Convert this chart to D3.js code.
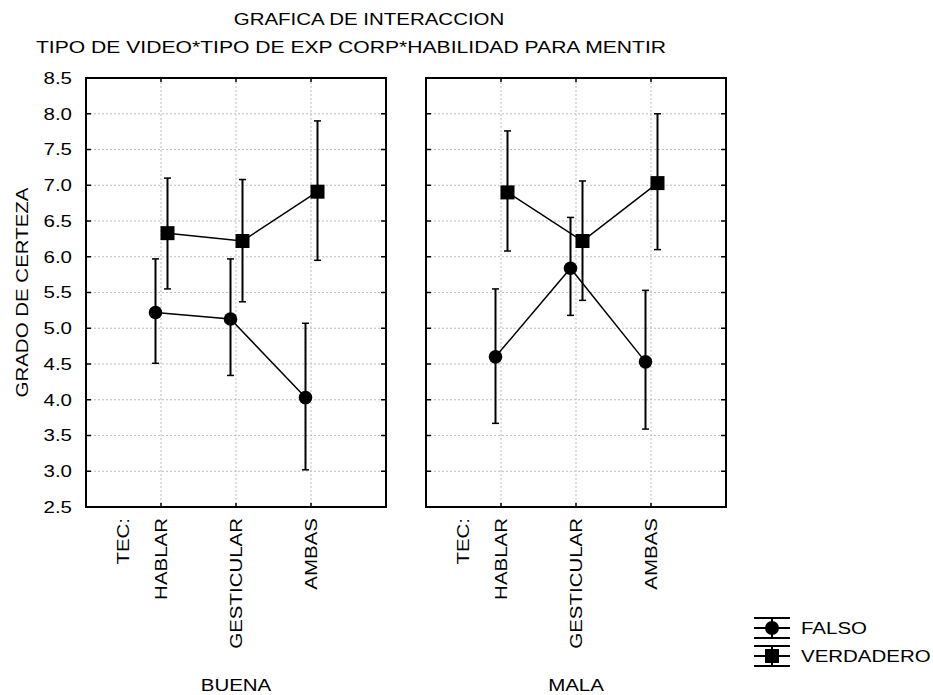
<!DOCTYPE html>
<html>
<head>
<meta charset="utf-8">
<script src="https://cdn.jsdelivr.net/npm/d3@7"></script>
<style>
  body { margin: 0; background: #fff; }
  text { font-family: "Liberation Sans", Arial, sans-serif; fill: #000; font-size: 16px; }
</style>
</head>
<body>
<script>
// data
const techniques = ["HABLAR", "GESTICULAR", "AMBAS"];
const panels = ["BUENA", "MALA"];
const yTicks = [2.5, 3.0, 3.5, 4.0, 4.5, 5.0, 5.5, 6.0, 6.5, 7.0, 7.5, 8.0, 8.5];

// BUENA panel
const buenaFalsoMean = [5.22, 5.13, 4.03];
const buenaFalsoLow = [4.51, 4.34, 3.02];
const buenaFalsoHigh = [5.97, 5.97, 5.07];
const buenaVerdMean = [6.33, 6.22, 6.91];
const buenaVerdLow = [5.55, 5.37, 5.95];
const buenaVerdHigh = [7.10, 7.08, 7.90];

// MALA panel
const malaFalsoMean = [4.60, 5.84, 4.53];
const malaFalsoLow = [3.67, 5.18, 3.59];
const malaFalsoHigh = [5.55, 6.55, 5.53];
const malaVerdMean = [6.90, 6.22, 7.03];
const malaVerdLow = [6.08, 5.39, 6.10];
const malaVerdHigh = [7.76, 7.06, 8.00];

const series = {
  BUENA: [
    { name: "FALSO", mean: buenaFalsoMean, low: buenaFalsoLow, high: buenaFalsoHigh },
    { name: "VERDADERO", mean: buenaVerdMean, low: buenaVerdLow, high: buenaVerdHigh }
  ],
  MALA: [
    { name: "FALSO", mean: malaFalsoMean, low: malaFalsoLow, high: malaFalsoHigh },
    { name: "VERDADERO", mean: malaVerdMean, low: malaVerdLow, high: malaVerdHigh }
  ]
};

const width = 933, height = 695;
const plotTop = 78, plotBottom = 507;
const panelLeft = { BUENA: 86, MALA: 426 };
const panelW = 300;
// small horizontal shift so the two series don't overlap
const shift = { FALSO: -5.5, VERDADERO: 6.5 };
// the original font is drawn wider than Arial
const stretch = 1.28;

const svg = d3.select("body").append("svg")
  .attr("width", width)
  .attr("height", height);

// text helper: stretched along the writing direction
function label(g, x, y, str, anchor, rot, dy, sx) {
  return g.append("text")
    .attr("transform", `translate(${x},${y}) rotate(${rot || 0}) scale(${sx || stretch},1)`)
    .attr("text-anchor", anchor || "start")
    .attr("dy", dy || 0)
    .text(str);
}

const y = d3.scaleLinear().domain([2.5, 8.5]).range([plotBottom, plotTop]);

// titles
label(svg, 369, 25, "GRAFICA DE INTERACCION", "middle");
label(svg, 351, 53, "TIPO DE VIDEO*TIPO DE EXP CORP*HABILIDAD PARA MENTIR", "middle", 0, 0, 1.32);

// y axis labels
const yl = svg.append("g");
yTicks.forEach((d) => label(yl, 72, y(d), d.toFixed(1), "end", 0, "0.36em"));

label(svg, 28, (plotTop + plotBottom) / 2, "GRADO DE CERTEZA", "middle", -90);

const line = d3.line();

panels.forEach((p) => {
  const x = d3.scaleLinear().domain([0, 4]).range([panelLeft[p], panelLeft[p] + panelW]);
  const g = svg.append("g");
  const inner = yTicks.slice(1, -1);

  // grid
  g.selectAll(".hgrid")
    .data(inner)
    .enter()
    .append("line")
    .attr("x1", x(0)).attr("x2", x(4))
    .attr("y1", (d) => y(d)).attr("y2", (d) => y(d))
    .attr("stroke", "#bdbdbd")
    .attr("stroke-dasharray", "2,2");
  g.selectAll(".vgrid")
    .data(techniques)
    .enter()
    .append("line")
    .attr("x1", (d, i) => x(i + 1)).attr("x2", (d, i) => x(i + 1))
    .attr("y1", plotTop).attr("y2", plotBottom)
    .attr("stroke", "#bdbdbd")
    .attr("stroke-dasharray", "2,2");

  // inside ticks
  inner.forEach((v) => {
    g.append("line").attr("x1", x(0)).attr("x2", x(0) + 5)
      .attr("y1", y(v)).attr("y2", y(v)).attr("stroke", "#000").attr("stroke-width", 1.5);
    g.append("line").attr("x1", x(4)).attr("x2", x(4) - 5)
      .attr("y1", y(v)).attr("y2", y(v)).attr("stroke", "#000").attr("stroke-width", 1.5);
  });
  techniques.forEach((t, i) => {
    g.append("line").attr("x1", x(i + 1)).attr("x2", x(i + 1))
      .attr("y1", plotBottom).attr("y2", plotBottom - 4).attr("stroke", "#000").attr("stroke-width", 1.5);
    g.append("line").attr("x1", x(i + 1)).attr("x2", x(i + 1))
      .attr("y1", plotTop).attr("y2", plotTop + 4).attr("stroke", "#000").attr("stroke-width", 1.5);
  });

  // frame
  g.append("rect")
    .attr("x", x(0)).attr("y", plotTop)
    .attr("width", x(4) - x(0)).attr("height", plotBottom - plotTop)
    .attr("fill", "none")
    .attr("stroke", "#000")
    .attr("stroke-width", 2);

  // x labels
  const labels = ["TEC:"].concat(techniques);
  const labelPos = [0.5, 1, 2, 3];
  labels.forEach((d, i) => label(g, x(labelPos[i]), 518, d, "end", -90, "0.36em"));

  label(g, x(2), 691, p, "middle");

  // series
  series[p].forEach((s) => {
    const px = (i) => x(i + 1) + shift[s.name];
    const pts = s.mean.map((m, i) => [px(i), y(m)]);
    g.append("path")
      .attr("d", line(pts))
      .attr("fill", "none")
      .attr("stroke", "#000")
      .attr("stroke-width", 1.5);

    s.mean.forEach((m, i) => {
      g.append("line")
        .attr("x1", px(i)).attr("x2", px(i))
        .attr("y1", y(s.low[i])).attr("y2", y(s.high[i]))
        .attr("stroke", "#000").attr("stroke-width", 2);
      [s.low[i], s.high[i]].forEach((v) => {
        g.append("line")
          .attr("x1", px(i) - 3.5).attr("x2", px(i) + 3.5)
          .attr("y1", y(v)).attr("y2", y(v))
          .attr("stroke", "#000").attr("stroke-width", 1.5);
      });
      if (s.name === "FALSO") {
        g.append("circle").attr("cx", px(i)).attr("cy", y(m)).attr("r", 6.8).attr("fill", "#000");
      } else {
        g.append("rect").attr("x", px(i) - 7).attr("y", y(m) - 7)
          .attr("width", 14).attr("height", 14).attr("fill", "#000");
      }
    });
  });
});

// legend
const legendItems = ["FALSO", "VERDADERO"];
const lg = svg.append("g");
legendItems.forEach((name, i) => {
  const cy = 628 + i * 28;
  const cx = 772;
  [cy - 10, cy, cy + 10].forEach((ly) => {
    lg.append("line").attr("x1", 754).attr("x2", 790)
      .attr("y1", ly).attr("y2", ly).attr("stroke", "#000").attr("stroke-width", 2);
  });
  lg.append("line").attr("x1", cx).attr("x2", cx)
    .attr("y1", cy - 10).attr("y2", cy + 10).attr("stroke", "#000").attr("stroke-width", 2);
  if (name === "FALSO") {
    lg.append("circle").attr("cx", cx).attr("cy", cy).attr("r", 7).attr("fill", "#000");
  } else {
    lg.append("rect").attr("x", cx - 7).attr("y", cy - 7).attr("width", 14).attr("height", 14).attr("fill", "#000");
  }
  label(lg, 801, cy, name, "start", 0, "0.36em");
});
</script>
</body>
</html>
